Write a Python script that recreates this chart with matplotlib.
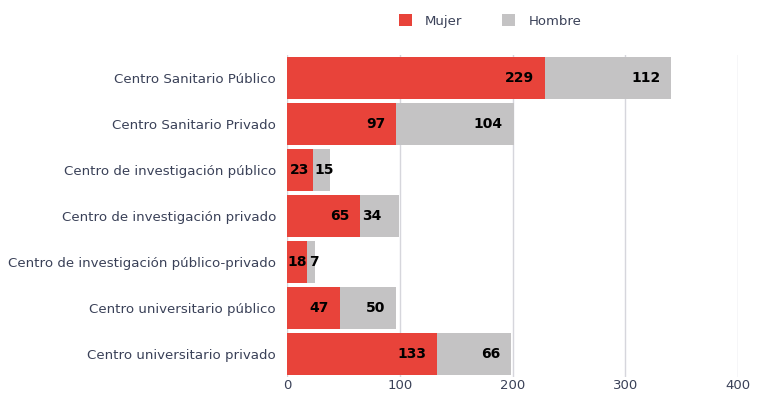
import matplotlib
matplotlib.use("Agg")
import matplotlib.pyplot as plt
from matplotlib.patches import Patch

categories = [
    "Centro Sanitario Público",
    "Centro Sanitario Privado",
    "Centro de investigación público",
    "Centro de investigación privado",
    "Centro de investigación público-privado",
    "Centro universitario público",
    "Centro universitario privado",
]
mujer = [229, 97, 23, 65, 18, 47, 133]
hombre = [112, 104, 15, 34, 7, 50, 66]
xticks = [0, 100, 200, 300, 400]

RED = "#e8433a"
GRAY = "#c4c3c4"
TEXT = "#3a4158"
GRID = "#d6d6dc"

plt.rcParams["font.family"] = ["DejaVu Sans"]

fig = plt.figure(figsize=(7.63, 3.94), dpi=100)
ax = fig.add_axes([287 / 763, 1 - 377 / 394, 451 / 763, 322 / 394])

ypos = list(range(len(categories)))
ax.barh(ypos, mujer, height=0.91, color=RED, zorder=3)
ax.barh(ypos, hombre, left=mujer, height=0.91, color=GRAY, zorder=3)

ax.set_xlim(0, 400)
ax.set_ylim(6.5, -0.5)
ax.set_xticks(xticks)
ax.set_xticklabels([str(t) for t in xticks])
ax.set_yticks(ypos)
ax.set_yticklabels(categories)
ax.tick_params(axis="y", length=0, pad=8, labelsize=9.6, labelcolor=TEXT)
ax.tick_params(axis="x", length=0, pad=1.5, labelsize=9.5, labelcolor=TEXT)
ax.grid(axis="x", color=GRID, linewidth=1.0, zorder=0)
for s in ax.spines.values():
    s.set_visible(False)

# value labels inside the segments
px_per_unit = 451 / 400
for i, (m, h) in enumerate(zip(mujer, hombre)):
    for k, (start, val) in enumerate(((0, m), (m, h))):
        end = start + val
        if val * px_per_unit < 40:
            if k == 0:
                x, ha = start + val / 2, "center"
            else:
                x, ha = start + 2 / px_per_unit, "left"
        else:
            x, ha = end - 11 / px_per_unit, "right"
        ax.text(x, i, str(val), ha=ha, va="center", fontsize=10,
                fontweight="bold", color="black", zorder=4)

handles = [Patch(facecolor=RED, edgecolor="none"),
           Patch(facecolor=GRAY, edgecolor="none")]
fig.legend(handles, ["Mujer", "Hombre"], loc="center", bbox_to_anchor=(490 / 763, 1 - 21 / 394),
           ncol=2, frameon=False, fontsize=9.5, labelcolor=TEXT,
           handlelength=1.0, handleheight=1.0, handletextpad=1.0, columnspacing=3.0)

fig.savefig("out.png", dpi=100)
